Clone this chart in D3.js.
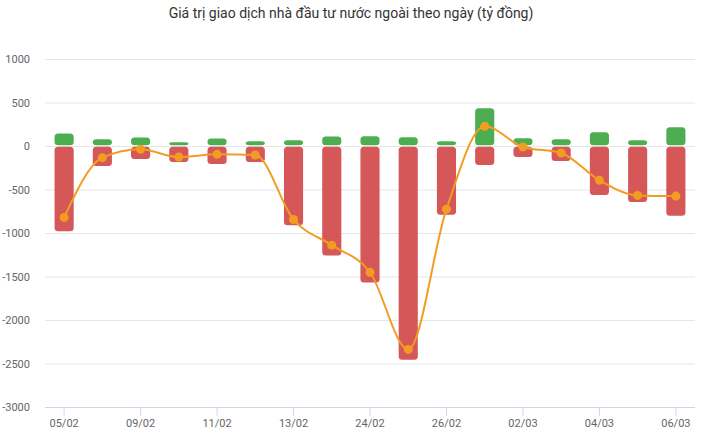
<!DOCTYPE html>
<html>
<head>
<meta charset="utf-8">
<script src="https://cdn.jsdelivr.net/npm/d3@7"></script>
<style>
  body { margin: 0; background: #fff; }
  svg { font-family: Roboto, "Noto Sans", sans-serif; }
</style>
</head>
<body>
<svg id="chart" width="702" height="435"></svg>
<script>
// --- Datos (tỷ đồng) ---
const days = ["05/02", "06/02", "09/02", "10/02", "11/02", "12/02", "13/02", "23/02", "24/02",
              "25/02", "26/02", "27/02", "02/03", "03/03", "04/03", "05/03", "06/03"];
const buyValues = [143, 77, 97, 43, 85, 54, 66, 108, 112, 100, 54, 434, 89, 77, 158, 66, 215];
const sellValues = [-979, -230, -150, -184, -207, -184, -910, -1259, -1570, -2457, -790, -219, -127, -173, -564, -645, -802];
const netValues = [-821, -134, -38, -127, -96, -104, -845, -1140, -1451, -2338, -726, 227, -11, -80, -395, -568, -576];
const yTicks = [-3000, -2500, -2000, -1500, -1000, -500, 0, 500, 1000];
const shownLabels = ["05/02", "09/02", "11/02", "13/02", "24/02", "26/02", "02/03", "04/03", "06/03"];

const plotLeft = 45, plotRight = 695, plotTop = 59, plotBottom = 407;

const svg = d3.select("#chart");

const x = d3.scaleBand()
    .domain(days)
    .range([plotLeft, plotRight])
    .paddingInner(0.5)
    .paddingOuter(0.25);

const y = d3.scaleLinear()
    .domain([-3000, 1000])
    .range([plotBottom, plotTop]);

// título
svg.append("text")
    .attr("x", 351)
    .attr("y", 18)
    .attr("text-anchor", "middle")
    .style("font-size", "14px")
    .style("fill", "#333")
    .text("Giá trị giao dịch nhà đầu tư nước ngoài theo ngày (tỷ đồng)");

// líneas de la cuadrícula
svg.append("g")
    .selectAll("line")
    .data(yTicks.filter(d => d !== -3000))
    .join("line")
    .attr("x1", plotLeft)
    .attr("x2", plotRight)
    .attr("y1", d => y(d) + 0.5)
    .attr("y2", d => y(d) + 0.5)
    .attr("stroke", "#e6e6e6");

// eje Y
svg.append("g")
    .selectAll("text")
    .data(yTicks)
    .join("text")
    .attr("x", 30)
    .attr("y", d => y(d) + 4)
    .attr("text-anchor", "end")
    .style("font-size", "11px")
    .style("fill", "#666")
    .text(d => d);

// eje X
const xAxis = d3.axisBottom(x)
    .tickValues(shownLabels)
    .tickSize(8)
    .tickSizeOuter(0)
    .tickPadding(4);

const gx = svg.append("g")
    .attr("transform", `translate(0, ${plotBottom + 0.5})`)
    .call(xAxis);
gx.select(".domain").attr("stroke", "#ccd6eb").attr("d", `M${plotLeft},0H${plotRight}`);
gx.selectAll(".tick line").attr("stroke", "#ccd6eb");
gx.selectAll(".tick text")
    .style("font-size", "11px")
    .style("fill", "#666")
    .style("font-family", "Roboto, sans-serif");

// barras (pequeño hueco entre la verde y la roja)
const bw = x.bandwidth();
const gap = 0.8;

svg.append("g")
    .selectAll("rect")
    .data(days)
    .join("rect")
    .attr("x", d => x(d))
    .attr("width", bw)
    .attr("y", (d, i) => y(buyValues[i]))
    .attr("height", (d, i) => y(0) - y(buyValues[i]) - gap)
    .attr("rx", 3.5)
    .attr("fill", "#4cae50");

svg.append("g")
    .selectAll("rect")
    .data(days)
    .join("rect")
    .attr("x", d => x(d))
    .attr("width", bw)
    .attr("y", y(0) + gap)
    .attr("height", (d, i) => y(sellValues[i]) - y(0) - gap)
    .attr("rx", 3.5)
    .attr("fill", "#d55757");

// línea neta
const line = d3.line()
    .x((d, i) => x(days[i]) + bw / 2)
    .y(d => y(d))
    .curve(d3.curveMonotoneX);

svg.append("path")
    .datum(netValues)
    .attr("d", line)
    .attr("fill", "none")
    .attr("stroke", "#f29d22")
    .attr("stroke-width", 2);

svg.append("g")
    .selectAll("circle")
    .data(netValues)
    .join("circle")
    .attr("cx", (d, i) => x(days[i]) + bw / 2)
    .attr("cy", d => y(d))
    .attr("r", 4.5)
    .attr("fill", "#f29d22");
</script>
</body>
</html>
